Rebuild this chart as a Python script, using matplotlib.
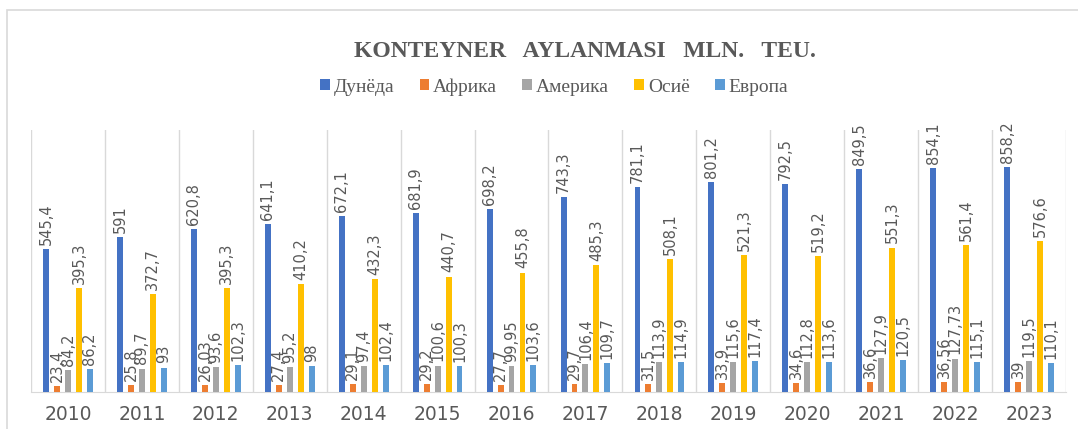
import matplotlib.pyplot as plt
from matplotlib.patches import Rectangle
import numpy as np

years = ['2010', '2011', '2012', '2013', '2014', '2015', '2016',
         '2017', '2018', '2019', '2020', '2021', '2022', '2023']

world = [545.4, 591, 620.8, 641.1, 672.1, 681.9, 698.2,
         743.3, 781.1, 801.2, 792.5, 849.5, 854.1, 858.2]
africa = [23.4, 25.8, 26.03, 27.4, 29.1, 29.2, 27.7,
          29.7, 31.5, 33.9, 34.6, 36.6, 36.56, 39]
america = [84.2, 89.7, 93.6, 95.2, 97.4, 100.6, 99.95,
           106.4, 113.9, 115.6, 112.8, 127.9, 127.73, 119.5]
asia = [395.3, 372.7, 395.3, 410.2, 432.3, 440.7, 455.8,
        485.3, 508.1, 521.3, 519.2, 551.3, 561.4, 576.6]
europe = [86.2, 93, 102.3, 98, 102.4, 100.3, 103.6,
          109.7, 114.9, 117.4, 113.6, 120.5, 115.1, 110.1]

series_names = ['Дунёда', 'Африка', 'Америка', 'Осиё', 'Европа']
series_values = [world, africa, america, asia, europe]
colors = ['#4472C4', '#ED7D31', '#A5A5A5', '#FFC000', '#5B9BD5']

TEXT = '#595959'
GRID = '#D9D9D9'


def fmt(v):
    return f"{v:g}".replace('.', ',')


def generate_chart():
    fig = plt.figure(figsize=(10.78, 4.29), dpi=100)
    ax = fig.add_axes([0.0288, 0.0862, 0.96, 0.611])

    # outer chart frame (cut off on the right and bottom)
    fig.patches.append(Rectangle((0.0065, -0.1), 1.2, 1.0767,
                                 transform=fig.transFigure, fill=False,
                                 edgecolor=GRID, linewidth=1.2))

    x = np.arange(len(years))
    step = 0.148
    width = 0.08
    for i, (name, vals, c) in enumerate(zip(series_names, series_values, colors)):
        pos = x + (i - 2) * step
        ax.bar(pos, vals, width=width, color=c, label=name, zorder=3)
        for px, v in zip(pos, vals):
            ax.annotate(fmt(v), (px, v), xytext=(0, 3), textcoords='offset points',
                        rotation=90, ha='center', va='bottom',
                        fontsize=10.5, color=TEXT, zorder=4)

    ax.set_xlim(-0.5, len(years) - 0.5)
    ax.set_ylim(0, 1000)
    ax.set_yticks([])
    ax.set_xticks(x)
    ax.set_xticklabels(years, fontsize=13.5, color=TEXT)
    ax.tick_params(axis='x', length=0, pad=9)
    for b in np.arange(-0.5, len(years), 1.0):
        ax.axvline(b, color=GRID, linewidth=1, zorder=1)
    for s in ['top', 'right', 'left']:
        ax.spines[s].set_visible(False)
    ax.spines['bottom'].set_color(GRID)

    fig.text(0.543, 0.88, 'KONTEYNER   AYLANMASI   MLN.   TEU.',
             ha='center', va='center', fontsize=17, fontweight='bold',
             family='Liberation Serif', color=TEXT)

    fig.legend(loc='center', bbox_to_anchor=(0.514, 0.797), ncol=5,
               frameon=False, prop={'family': 'Liberation Serif', 'size': 14},
               labelcolor=TEXT, handlelength=0.5, handleheight=0.5,
               handletextpad=0.2, columnspacing=1.3)

    fig.savefig('out.png', dpi=100)
    plt.close(fig)


if __name__ == "__main__":
    generate_chart()
